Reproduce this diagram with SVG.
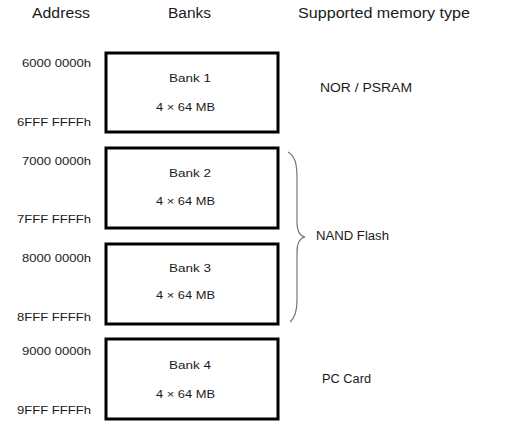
<svg xmlns="http://www.w3.org/2000/svg" width="508" height="429" viewBox="0 0 508 429">
<style>
text{font-family:"Liberation Sans",Arial,sans-serif;fill:#1a1a1a}
.h{font-size:14px}
.a{font-size:11px}
.b{font-size:11px}
.t{font-size:12.5px}
.box{fill:#fff;stroke:#000;stroke-width:3}
</style>
<rect width="508" height="429" fill="#fff"/>
<g id="headers">
<text class="h" x="32" y="18" textLength="58" lengthAdjust="spacingAndGlyphs">Address</text>
<text class="h" x="168" y="18" textLength="43" lengthAdjust="spacingAndGlyphs">Banks</text>
<text class="h" x="298" y="18" textLength="172" lengthAdjust="spacingAndGlyphs">Supported memory type</text>
</g>
<g id="bank1">
<rect class="box" x="106" y="53" width="172" height="79"/>
<text class="b" x="169" y="82" textLength="42" lengthAdjust="spacingAndGlyphs">Bank 1</text>
<text class="b" x="156" y="111" textLength="59" lengthAdjust="spacingAndGlyphs">4 × 64 MB</text>
<text class="a" x="22" y="67" textLength="69" lengthAdjust="spacingAndGlyphs">6000 0000h</text>
<text class="a" x="17" y="126" textLength="74" lengthAdjust="spacingAndGlyphs">6FFF FFFFh</text>
</g>
<g id="bank2">
<rect class="box" x="106" y="148" width="172" height="80"/>
<text class="b" x="169" y="177" textLength="42" lengthAdjust="spacingAndGlyphs">Bank 2</text>
<text class="b" x="156" y="205" textLength="59" lengthAdjust="spacingAndGlyphs">4 × 64 MB</text>
<text class="a" x="22" y="165" textLength="69" lengthAdjust="spacingAndGlyphs">7000 0000h</text>
<text class="a" x="17" y="223" textLength="74" lengthAdjust="spacingAndGlyphs">7FFF FFFFh</text>
</g>
<g id="bank3">
<rect class="box" x="106" y="244" width="172" height="80"/>
<text class="b" x="169" y="272" textLength="42" lengthAdjust="spacingAndGlyphs">Bank 3</text>
<text class="b" x="156" y="299" textLength="59" lengthAdjust="spacingAndGlyphs">4 × 64 MB</text>
<text class="a" x="22" y="262" textLength="69" lengthAdjust="spacingAndGlyphs">8000 0000h</text>
<text class="a" x="17" y="321" textLength="74" lengthAdjust="spacingAndGlyphs">8FFF FFFFh</text>
</g>
<g id="bank4">
<rect class="box" x="106" y="339" width="172" height="80"/>
<text class="b" x="169" y="369" textLength="42" lengthAdjust="spacingAndGlyphs">Bank 4</text>
<text class="b" x="156" y="398" textLength="59" lengthAdjust="spacingAndGlyphs">4 × 64 MB</text>
<text class="a" x="22" y="355" textLength="69" lengthAdjust="spacingAndGlyphs">9000 0000h</text>
<text class="a" x="17" y="414" textLength="74" lengthAdjust="spacingAndGlyphs">9FFF FFFFh</text>
</g>
<g id="types">
<text class="t" x="320" y="92" textLength="92" lengthAdjust="spacingAndGlyphs">NOR / PSRAM</text>
<text class="t" x="316" y="240" textLength="73" lengthAdjust="spacingAndGlyphs">NAND Flash</text>
<text class="t" x="322" y="383" textLength="49" lengthAdjust="spacingAndGlyphs">PC Card</text>
</g>
<g id="connectors">
<path d="M288,152 C295,156 297,164 297,178 L297,222 C297,232 300,236 305,237 C300,238 297,242 297,252 L297,300 C297,312 295,318 290,322" fill="none" stroke="#777" stroke-width="1.2"/>
</g>
</svg>
